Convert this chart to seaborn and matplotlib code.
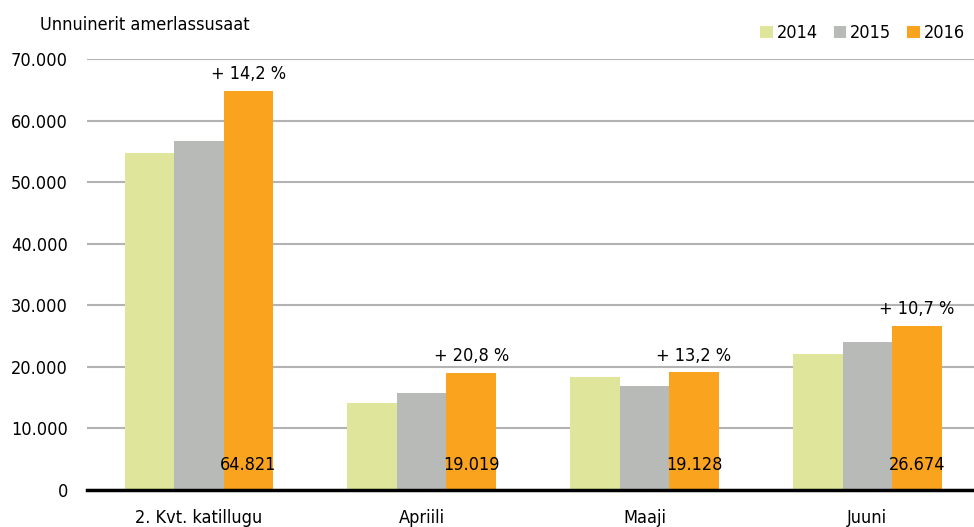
import seaborn as sns
import matplotlib.pyplot as plt
import pandas as pd

# data
categories = ["2. Kvt. katillugu", "Apriili", "Maaji", "Juuni"]
years = ["2014", "2015", "2016"]
v2014 = [54700, 14100, 18350, 22100]
v2015 = [56750, 15750, 16850, 24050]
v2016 = [64821, 19019, 19128, 26674]
changes = ["+ 14,2 %", "+ 20,8 %", "+ 13,2 %", "+ 10,7 %"]
colors = ["#dfe59b", "#b8bab7", "#f9a31e"]

rows = []
for yr, vals in zip(years, [v2014, v2015, v2016]):
    for cat, v in zip(categories, vals):
        rows.append({"kategori": cat, "aar": yr, "antal": v})
df = pd.DataFrame(rows)

sns.set_style("white")
plt.rcParams["font.family"] = ["DejaVu Sans"]
plt.rcParams["font.stretch"] = "condensed"
plt.rcParams["text.color"] = "black"

fig = plt.figure(figsize=(9.74, 5.27), dpi=100)
ax = fig.add_axes([0.0898, 0.0702, 0.915, 0.818])

sns.barplot(data=df, x="kategori", y="antal", hue="aar", order=categories,
            hue_order=years, palette=colors, width=0.667, gap=0,
            linewidth=0, saturation=1, ax=ax)

ax.set_ylim(0, 70000)
ax.set_xlim(-0.5, 3.5)
ax.set_yticks(range(0, 70001, 10000))
ax.set_yticklabels([f"{t:,}".replace(",", ".") if t else "0" for t in range(0, 70001, 10000)],
                   fontsize=13)
ax.tick_params(axis="x", labelsize=13, length=0, pad=14, labelcolor="black")
ax.tick_params(axis="y", length=0, pad=14, labelcolor="black")
ax.yaxis.grid(True, color="#b3b3b3", linewidth=1.5)
ax.set_axisbelow(True)
for s in ["left", "right", "top"]:
    ax.spines[s].set_visible(False)
ax.spines["bottom"].set_color("black")
ax.spines["bottom"].set_linewidth(2.5)
ax.set_xlabel("")
ax.set_ylabel("")

# labels on the 2016 bars
bars16 = ax.containers[2]
for bar, v, ch in zip(bars16, v2016, changes):
    xc = bar.get_x() + bar.get_width() / 2
    ax.text(xc, 4000, f"{v:,}".replace(",", "."), ha="center", va="center", fontsize=13)
    ax.text(xc, v + 1200, ch, ha="center", va="bottom", fontsize=13)

fig.text(0.041, 0.952, "Unnuinerit amerlassusaat", fontsize=13, va="center")

handles, labels = ax.get_legend_handles_labels()
ax.legend(handles, labels, ncol=3, frameon=False, loc="center right",
          bbox_to_anchor=(0.998, 0.937), bbox_transform=fig.transFigure,
          fontsize=13, handlelength=0.7, handleheight=0.7,
          handletextpad=0.2, columnspacing=0.9, borderaxespad=0)

fig.savefig("out.png", dpi=100)
